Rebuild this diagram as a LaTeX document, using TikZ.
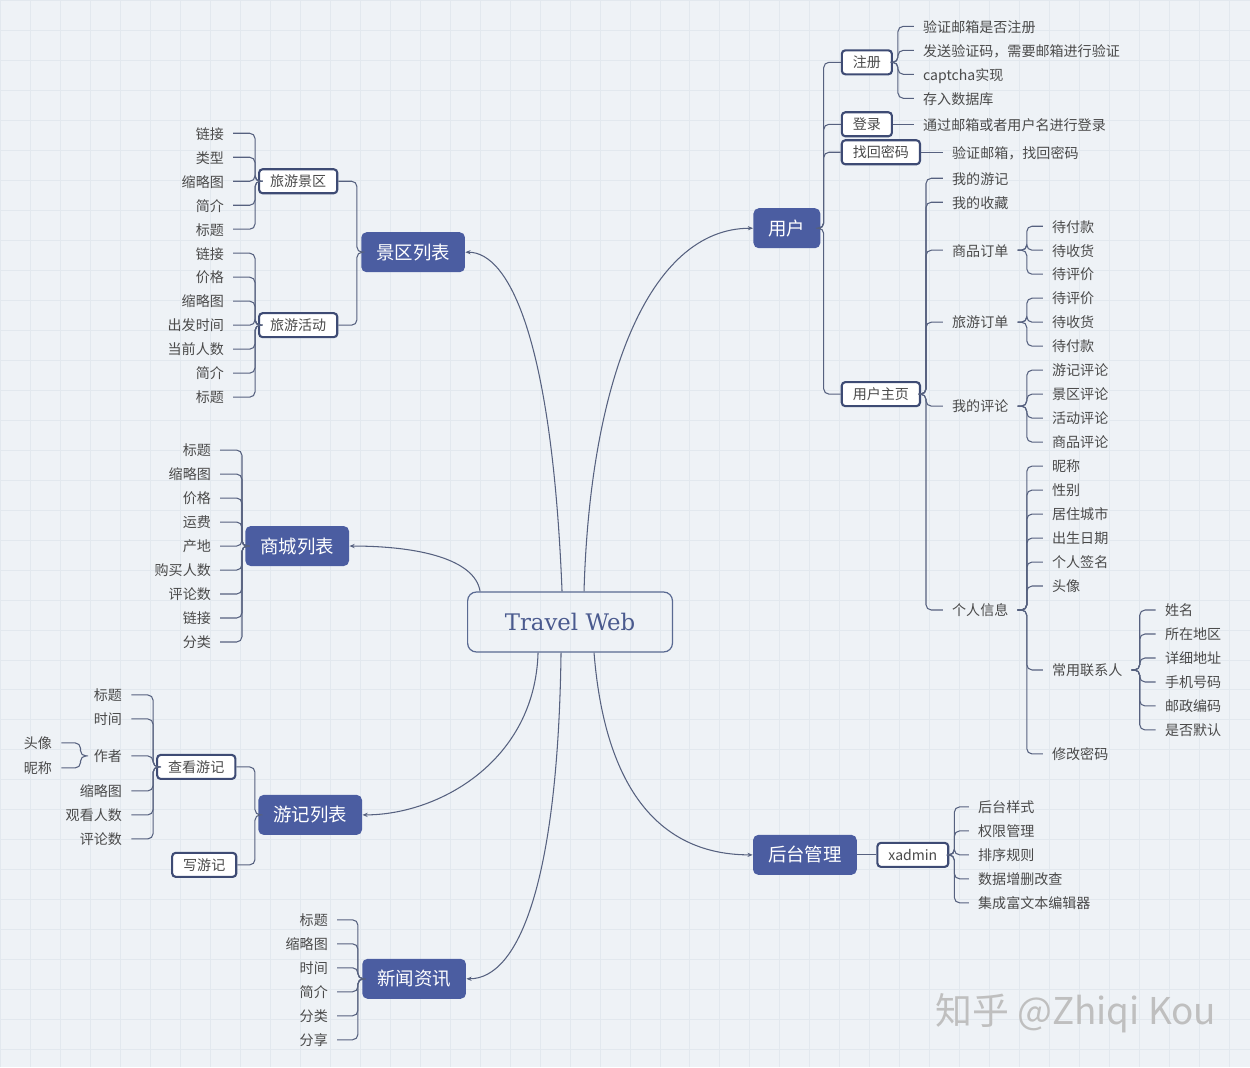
\documentclass[tikz,border=0pt]{standalone}
\usepackage{fontspec}
\setmainfont{Noto Sans CJK SC}
\newfontfamily\rootfont{DejaVu Serif}
\usetikzlibrary{arrows.meta,calc}

\definecolor{bgcol}{HTML}{EEF2F6}
\definecolor{gridcol}{HTML}{E2E8EE}
\definecolor{topicfill}{HTML}{4B5DA1}
\definecolor{subline}{HTML}{3E4B74}
\definecolor{linkcol}{HTML}{56617F}
\definecolor{leaftxt}{HTML}{4A4A4A}
\definecolor{rootline}{HTML}{5A6A92}
\definecolor{roottxt}{HTML}{4A5A8E}

\begin{document}
\begin{tikzpicture}[
  x=0.02cm, y=-0.02cm,
  root/.style={draw=rootline, line width=0.7pt, rounded corners=5pt,
               minimum width=4.1cm, minimum height=1.2cm, text=roottxt,
               font=\rootfont\fontsize{13}{15}\selectfont},
  topic/.style={fill=topicfill, rounded corners=3pt, text=white,
                inner xsep=0.3cm, minimum height=0.8cm,
                font=\fontsize{10.5}{12}\selectfont},
  sub/.style={draw=subline, line width=1.2pt, fill=white, rounded corners=2pt,
              inner xsep=0.22cm, inner ysep=0pt, minimum height=0.48cm,
              text=leaftxt, font=\fontsize{8}{9}\selectfont},
  leaf/.style={text=leaftxt, inner xsep=0.18cm, inner ysep=1pt,
               text height=7.2pt, text depth=0.6pt,
               font=\fontsize{8}{9}\selectfont},
  leafR/.style={leaf, anchor=west},
  leafL/.style={leaf, anchor=east},
  link/.style={draw=linkcol, line width=0.6pt, rounded corners=3pt},
  curve/.style={draw=linkcol, line width=0.6pt,
                -{Stealth[length=3pt,width=2.4pt]}},
  bggrid/.style={gridcol, line width=0.4pt},
  wm/.style={text=gray!50, font=\fontsize{21}{24}\selectfont}]

% background
\fill[bgcol] (0,0) rectangle (1250,1067);
\draw[bggrid, step=0.6cm] (0,0) grid (1250,1067);
\useasboundingbox (0,0) rectangle (1250,1067);

% root and main topics
\node[root] (tw) at (570,622) {Travel Web};
\node[topic] (user) at (787,228) {用户};
\node[topic] (jq) at (413,252) {景区列表};
\node[topic] (sc) at (297,546) {商城列表};
\node[topic] (yj) at (310,815) {游记列表};
\node[topic] (xw) at (414,979) {新闻资讯};
\node[topic] (ht) at (805,855) {后台管理};

\draw[curve] ($(tw.north)+(14,0)$) .. controls +(6,-212) and +(-104,0) .. (user.west);
\draw[curve] ($(tw.north)+(-8,0)$) .. controls +(-10,-252) and +(44,0) .. (jq.east);
\draw[curve] ($(tw.north)+(-90,0)$) .. controls +(-5,-32) and +(70,0) .. (sc.east);
\draw[curve] ($(tw.south)+(-32,0)$) .. controls +(-3,108) and +(77,0) .. (yj.east);
\draw[curve] ($(tw.south)+(-9,0)$) .. controls +(-3,228) and +(53,0) .. (xw.east);
\draw[curve] ($(tw.south)+(24,0)$) .. controls +(11,138) and +(-92,0) .. (ht.west);

% user
\node[sub] (reg) at (867,62) {注册};
\node[sub] (login) at (867,124) {登录};
\node[sub] (findpw) at (881,152) {找回密码};
\node[sub] (home) at (881,394) {用户主页};
\foreach \c in {reg,login,findpw,home} \draw[link] (user.east) -- ++(3,0) |- (\c.west);

\foreach \t/\y [count=\i] in {验证邮箱是否注册/26, 发送验证码，需要邮箱进行验证/50, captcha实现/74, 存入数据库/98} {
  \node[leafR] (reg\i) at (914,\y) {\t};
  \draw[link] (reg.east) -- ++(5,0) |- (reg\i.west);
}
\node[leafR] (login1) at (914,124) {通过邮箱或者用户名进行登录};
\draw[link] (login) -- (login1);
\node[leafR] (findpw1) at (943,152) {验证邮箱，找回密码};
\draw[link] (findpw) -- (findpw1);

\foreach \n/\t/\y in {mytrip/我的游记/178, myfav/我的收藏/202, gorder/商品订单/250,
    torder/旅游订单/322, mycmt/我的评论/406, myinfo/个人信息/610} {
  \node[leafR] (\n) at (943,\y) {\t};
  \draw[link] (home.east) -- ++(5,0) |- (\n.west);
}

% user home sub-lists
\coordinate (sGo) at (1027,250);
\coordinate (sTo) at (1027,322);
\coordinate (sCmt) at (1027,406);
\coordinate (sInfo) at (1027,610);
\coordinate (sCon) at (1140,670);
\foreach \t/\y [count=\i] in {待付款/226, 待收货/250, 待评价/274} {
  \node[leafR] (gorder\i) at (1043,\y) {\t};
  \draw[link] (gorder.east) -- (sGo) |- (gorder\i.west);
}
\foreach \t/\y [count=\i] in {待评价/298, 待收货/322, 待付款/346} {
  \node[leafR] (torder\i) at (1043,\y) {\t};
  \draw[link] (torder.east) -- (sTo) |- (torder\i.west);
}
\foreach \t/\y [count=\i] in {游记评论/370, 景区评论/394, 活动评论/418, 商品评论/442} {
  \node[leafR] (mycmt\i) at (1043,\y) {\t};
  \draw[link] (mycmt.east) -- (sCmt) |- (mycmt\i.west);
}
\foreach \n/\t/\y in {nick/昵称/466, sex/性别/490, city/居住城市/514, birth/出生日期/538,
    sign/个人签名/562, avatar/头像/586, contact/常用联系人/670, chpw/修改密码/754} {
  \node[leafR] (\n) at (1043,\y) {\t};
  \draw[link] (myinfo.east) -- (sInfo) |- (\n.west);
}
\foreach \t/\y [count=\i] in {姓名/610, 所在地区/634, 详细地址/658, 手机号码/682, 邮政编码/706, 是否默认/730} {
  \node[leafR] (con\i) at (1156,\y) {\t};
  \draw[link] (contact.east) -- (sCon) |- (con\i.west);
}

% scenic spots
\node[sub] (jqsp) at (298,181) {旅游景区};
\node[sub] (jqact) at (298,325) {旅游活动};
\foreach \c in {jqsp,jqact} \draw[link] (jq.west) -- ++(-4,0) |- (\c.east);
\foreach \t/\y [count=\i] in {链接/133, 类型/157, 缩略图/181, 简介/205, 标题/229} {
  \node[leafL] (jqsp\i) at (233,\y) {\t};
  \draw[link] (jqsp.west) -- ++(-3,0) |- (jqsp\i.east);
}
\foreach \t/\y [count=\i] in {链接/253, 价格/277, 缩略图/301, 出发时间/325, 当前人数/349, 简介/373, 标题/397} {
  \node[leafL] (jqact\i) at (233,\y) {\t};
  \draw[link] (jqact.west) -- ++(-3,0) |- (jqact\i.east);
}

% shop
\foreach \t/\y [count=\i] in {标题/450, 缩略图/474, 价格/498, 运费/522, 产地/546, 购买人数/570, 评论数/594, 链接/618, 分类/642} {
  \node[leafL] (sc\i) at (220,\y) {\t};
  \draw[link] (sc.west) -- ++(-3,0) |- (sc\i.east);
}

% travel notes
\node[sub] (viewyj) at (196,767) {查看游记};
\node[sub] (writeyj) at (204,865) {写游记};
\foreach \c in {viewyj,writeyj} \draw[link] (yj.west) -- ++(-3,0) |- (\c.east);
\foreach \n/\t/\y in {vytitle/标题/695, vytime/时间/719, author/作者/756, vypic/缩略图/791, vyview/观看人数/815, vycmt/评论数/839} {
  \node[leafL] (\n) at (131,\y) {\t};
  \draw[link] (viewyj.west) -- ++(-3,0) |- (\n.east);
}
\foreach \t/\y [count=\i] in {头像/743, 昵称/768} {
  \node[leafL] (author\i) at (61,\y) {\t};
  \draw[link] (author.west) -- ++(-4,0) |- (author\i.east);
}

% news
\foreach \t/\y [count=\i] in {标题/920, 缩略图/944, 时间/968, 简介/992, 分类/1016, 分享/1040} {
  \node[leafL] (xw\i) at (337,\y) {\t};
  \draw[link] (xw.west) -- ++(-4,0) |- (xw\i.east);
}

% admin
\node[sub] (xadmin) at (913,855) {xadmin};
\draw[link] (ht) -- (xadmin);
\foreach \t/\y [count=\i] in {后台样式/807, 权限管理/831, 排序规则/855, 数据增删改查/879, 集成富文本编辑器/903} {
  \node[leafR] (xadmin\i) at (969,\y) {\t};
  \draw[link] (xadmin.east) -- ++(5,0) |- (xadmin\i.west);
}

% watermark
\node[wm] (zhihu) at (1076,1013) {知乎 @Zhiqi Kou};
\end{tikzpicture}
\end{document}
